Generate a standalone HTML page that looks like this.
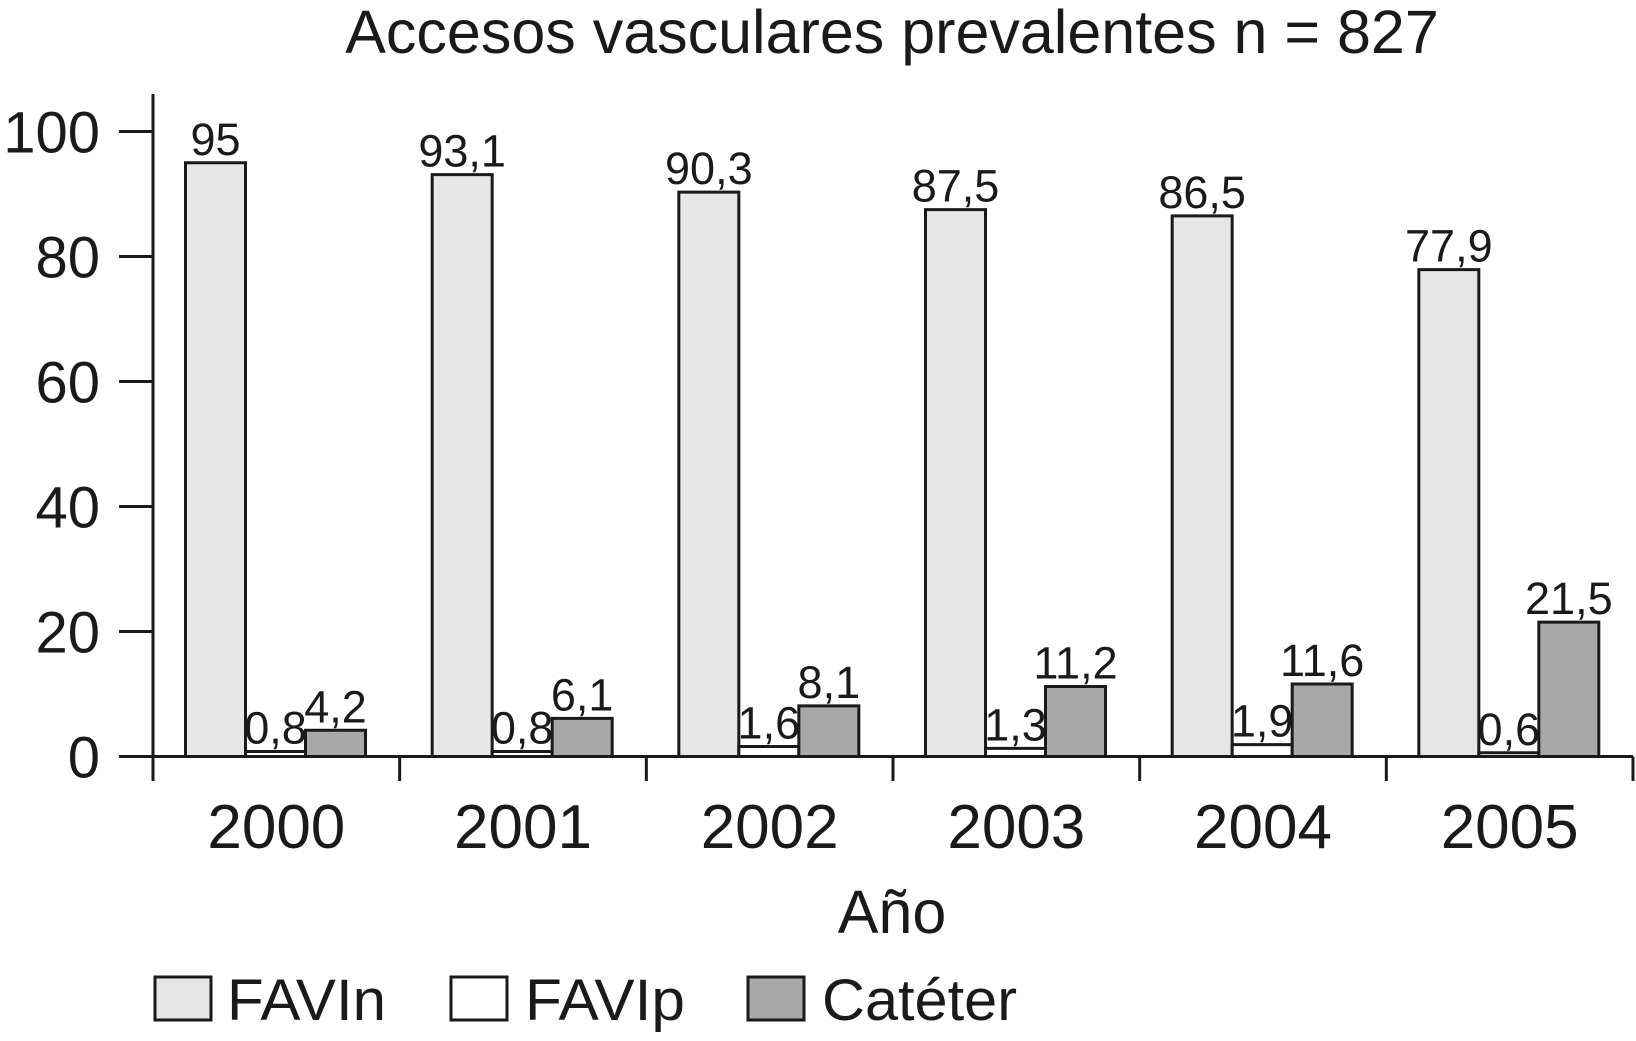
<!DOCTYPE html>
<html><head><meta charset="utf-8"><style>
html,body{margin:0;padding:0;background:#fff;}
svg{display:block;font-family:"Liberation Sans",sans-serif;}
</style></head><body>
<svg id="chart" width="1636" height="1041" viewBox="0 0 1636 1041">
<text x="892" y="53" font-size="61" text-anchor="middle" fill="#1a1a1a">Accesos vasculares prevalentes n = 827</text>
<g id="plot"></g>
<text x="892" y="933" font-size="61" text-anchor="middle" fill="#1a1a1a">Año</text>
<g>
 <g>
  <rect x="155" y="977" width="56" height="43" fill="#e6e6e6" stroke="#1a1a1a" stroke-width="3"/>
  <text x="227" y="1020" font-size="58" textLength="159" lengthAdjust="spacingAndGlyphs" fill="#1a1a1a">FAVIn</text>
 </g>
 <g>
  <rect x="451" y="977" width="56" height="43" fill="#fff" stroke="#1a1a1a" stroke-width="3"/>
  <text x="525" y="1020" font-size="58" textLength="160" lengthAdjust="spacingAndGlyphs" fill="#1a1a1a">FAVIp</text>
 </g>
 <g>
  <rect x="748" y="977" width="56" height="43" fill="#a8a8a8" stroke="#1a1a1a" stroke-width="3"/>
  <text x="822" y="1020" font-size="58" textLength="195" lengthAdjust="spacingAndGlyphs" fill="#1a1a1a">Catéter</text>
 </g>
</g>
</svg>
<script>
const categories = ["2000","2001","2002","2003","2004","2005"];
const favin = [95, 93.1, 90.3, 87.5, 86.5, 77.9];
const favip = [0.8, 0.8, 1.6, 1.3, 1.9, 0.6];
const cateter = [4.2, 6.1, 8.1, 11.2, 11.6, 21.5];
const favinLabels = ["95","93,1","90,3","87,5","86,5","77,9"];
const favipLabels = ["0,8","0,8","1,6","1,3","1,9","0,6"];
const cateterLabels = ["4,2","6,1","8,1","11,2","11,6","21,5"];
const yTicks = [0, 20, 40, 60, 80, 100];

const NS = "http://www.w3.org/2000/svg";
const plot = document.getElementById("plot");
const X0 = 153, X1 = 1633, Y0 = 756.5, Y100 = 131.5;
const catW = (X1 - X0) / categories.length;
const barW = 60, groupOff = 32.5;
function yScale(v){ return Y0 - (v/100)*(Y0 - Y100); }
function xCat(i){ return X0 + i*catW; }
function mk(tag, attrs){ const e=document.createElementNS(NS,tag); for(const k in attrs) e.setAttribute(k, attrs[k]); plot.appendChild(e); return e; }

const series = [
  {vals:favin, labels:favinLabels, fill:"#e6e6e6", name:"favin"},
  {vals:favip, labels:favipLabels, fill:"#ffffff", name:"favip"},
  {vals:cateter, labels:cateterLabels, fill:"#a8a8a8", name:"cateter"}
];
categories.forEach((c,i)=>{
  series.forEach((s,j)=>{
    const x = xCat(i) + groupOff + j*barW;
    const y = yScale(s.vals[i]);
    const r = mk("rect",{x:x, y:y, width:barW, height:Math.max(Y0-y,0), fill:s.fill, stroke:"#1a1a1a", "stroke-width":3});
    
    
    const t = mk("text",{x:x+barW/2, y:y-8, "font-size":45, "text-anchor":"middle", fill:"#1a1a1a"});
    t.textContent = s.labels[i];
    
    
  });
  const lab = mk("text",{x:xCat(i)+catW/2, y:848, "font-size":62, "text-anchor":"middle", fill:"#1a1a1a"});
  lab.textContent = c;
  
  
});
for(let i=0;i<=categories.length;i++){
  const tk = mk("line",{x1:xCat(i), x2:xCat(i), y1:Y0, y2:781, stroke:"#1a1a1a", "stroke-width":3});
  
  
}
yTicks.forEach(v=>{
  const y = yScale(v);
  const tk = mk("line",{x1:119, x2:X0, y1:y, y2:y, stroke:"#1a1a1a", "stroke-width":3});
  
  
  const t = mk("text",{x:100, y:y+21, "font-size":58, "text-anchor":"end", fill:"#1a1a1a"});
  t.textContent = v;
  
  
});
const ya = mk("line",{x1:X0, x2:X0, y1:94, y2:781, stroke:"#1a1a1a", "stroke-width":3});


const xa = mk("line",{x1:X0, x2:X1, y1:Y0, y2:Y0, stroke:"#1a1a1a", "stroke-width":3});


</script>
</body></html>
